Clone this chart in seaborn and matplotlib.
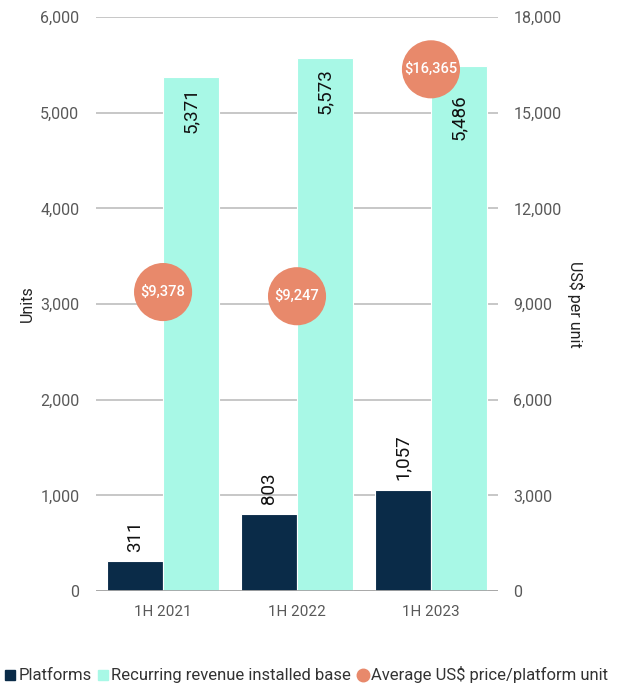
import pandas as pd
import numpy as np
import matplotlib.pyplot as plt
from matplotlib.lines import Line2D
import seaborn as sns

periods = ["1H 2021", "1H 2022", "1H 2023"]
platforms = [311, 803, 1057]
installed_base = [5371, 5573, 5486]
avg_price = [9378, 9247, 16365]

series_names = ["Platforms", "Recurring revenue installed base"]
price_name = "Average US$ price/platform unit"

dark = "#0a2b48"
mint = "#a8f8e6"
orange = "#e8896b"
grey_text = "#595959"
grid_col = "#bdbdbd"

sns.set_theme(style="white")
plt.rcParams['font.family'] = ['Roboto', 'DejaVu Sans']

df = pd.DataFrame({
    "period": periods * 2,
    "series": [series_names[0]] * 3 + [series_names[1]] * 3,
    "units": platforms + installed_base,
})
price_df = pd.DataFrame({"period": periods, "price": avg_price})

fig = plt.figure(figsize=(6.24, 6.88), dpi=100)
ax = fig.add_axes([0.154, 0.141, 0.644, 0.834])

sns.barplot(data=df, x="period", y="units", hue="series", order=periods,
            hue_order=series_names, palette=[dark, mint], width=0.83,
            saturation=1, edgecolor="white", linewidth=0.8, legend=False,
            ax=ax, zorder=2)

ax.set_xlim(-0.5, 2.5)
ax.set_ylim(0, 6000)
ax.set_yticks(np.arange(0, 6001, 1000))
ax.yaxis.set_major_formatter(plt.FuncFormatter(lambda v, p: f"{v:,.0f}"))
ax.yaxis.grid(True, color=grid_col, linewidth=1.2, zorder=0)
ax.set_axisbelow(True)
for s in ax.spines.values():
    s.set_visible(False)
ax.axhline(0, color="#a6a6a6", linewidth=2, zorder=3)
ax.tick_params(axis="y", length=0, labelsize=11.5, colors=grey_text, pad=12)
ax.tick_params(axis="x", length=0, labelsize=11, colors=grey_text, pad=10)
ax.set_xlabel("")
ax.set_ylabel("Units", fontsize=11.5, color="#222222", labelpad=4)

# value labels (the last installed-base label is pushed down to clear the price bubble)
cont_dark, cont_mint = ax.containers[0], ax.containers[1]
for bar, v in zip(cont_dark, platforms):
    ax.annotate(f"{v:,}", (bar.get_x() + bar.get_width() / 2, bar.get_height()),
                xytext=(0, 7), textcoords="offset points", rotation=90,
                ha="center", va="bottom", fontsize=13.5, color="#111111")
for i, (bar, v) in enumerate(zip(cont_mint, installed_base)):
    dy = -20 if i == 2 else -7
    ax.annotate(f"{v:,}", (bar.get_x() + bar.get_width() / 2, bar.get_height()),
                xytext=(0, dy), textcoords="offset points", rotation=90,
                ha="center", va="top", fontsize=13.5, color="#111111")

ax2 = ax.twinx()
sns.scatterplot(data=price_df, x="period", y="price", color=orange, s=1750,
                edgecolor="none", legend=False, ax=ax2, zorder=5)
ax2.set_xlim(-0.5, 2.5)
ax2.set_ylim(0, 18000)
ax2.set_yticks(np.arange(0, 18001, 3000))
ax2.yaxis.set_major_formatter(plt.FuncFormatter(lambda v, p: f"{v:,.0f}"))
for s in ax2.spines.values():
    s.set_visible(False)
ax2.tick_params(axis="y", length=0, labelsize=11.5, colors=grey_text, pad=11)
ax2.set_ylabel("US$ per unit", fontsize=11.5, color="#222222", rotation=270, labelpad=16)
ax2.set_xlabel("")
for i, v in enumerate(avg_price):
    ax2.text(i, v, f"${v:,}", ha="center", va="center", fontsize=10.5,
             color="white", fontweight="medium", zorder=6)

handles = [
    Line2D([], [], marker="s", linestyle="none", color=dark, markersize=6.5),
    Line2D([], [], marker="s", linestyle="none", color=mint, markersize=6.5),
    Line2D([], [], marker="o", linestyle="none", color=orange, markersize=9),
]
fig.legend(handles, series_names + [price_name], loc="center",
           bbox_to_anchor=(0.49, 0.019), ncol=3, frameon=False, fontsize=12,
           handletextpad=0.1, columnspacing=0.3, handlelength=0.8,
           labelcolor="#333333")

fig.savefig("out.png", dpi=100)
